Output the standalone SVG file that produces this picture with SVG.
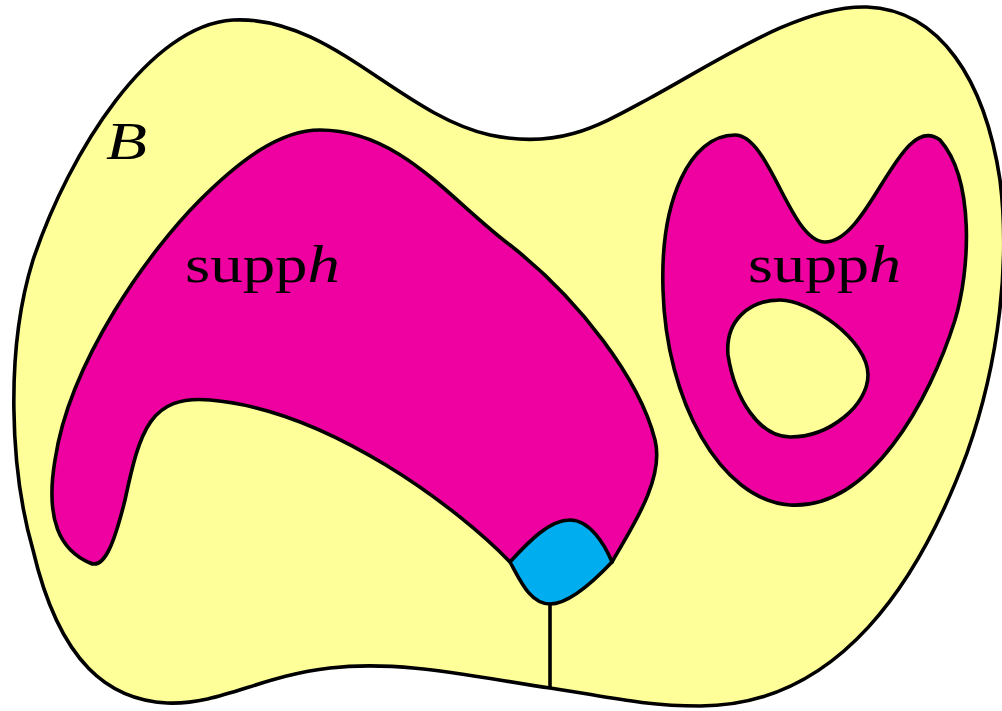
<svg xmlns="http://www.w3.org/2000/svg" width="1002" height="711" viewBox="0 0 1002 711">
<style>
.o{stroke:#000;stroke-width:3.6;stroke-linejoin:round}
.y{fill:#FFFF99}
.m{fill:#EF00A0}
.b{fill:#00AEEF}
.t{font-family:"Liberation Serif",serif;font-size:52px;fill:#000}
</style>
<rect width="1002" height="711" fill="#fff"/>
<g id="B">
<path class="o y" d="M 233,20 C 330,15 400,115 490,135 C 560,150 600,125 650,98 C 720,60 800,5 867,7 C 940,10 985,80 1000,180 C 1010,260 1000,360 967,453 C 920,580 840,706 700,706 C 640,706 600,695 550,688 C 470,676 400,660 330,668 C 260,676 220,705 167,703 C 110,700 60,665 33,550 C 10,470 5,350 33,260 C 70,150 150,25 233,20 Z"/>
<text class="t" x="106" y="159" font-style="italic" font-size="60" textLength="41" lengthAdjust="spacingAndGlyphs">B</text>
</g>
<g id="supp-left">
<path class="o m" d="M 320,130 C 400,130 450,200 510,245 C 580,300 640,380 655,440 C 665,480 630,530 612,562 L 510,562 C 460,510 330,410 210,400 C 150,395 140,430 125,500 C 115,540 105,570 90,563 C 60,550 45,520 55,460 C 70,360 150,250 200,200 C 240,160 280,130 320,130 Z"/>
<text class="t" x="185" y="282" textLength="155" lengthAdjust="spacingAndGlyphs">supp<tspan font-style="italic">h</tspan></text>
</g>
<g id="supp-right">
<path class="o m" d="M 825,242 C 790,242 770,135 735,135 C 690,135 660,200 663,290 C 666,400 720,500 790,505 C 870,510 930,400 955,320 C 970,270 975,180 940,140 C 900,110 870,242 825,242 Z"/>
<path class="o y" d="M 780,300 C 810,300 868,340 868,375 C 868,405 830,437 790,437 C 760,437 735,400 728,355 C 725,320 750,300 780,300 Z"/>
<text class="t" x="748" y="282" textLength="153" lengthAdjust="spacingAndGlyphs">supp<tspan font-style="italic">h</tspan></text>
</g>
<g id="blue">
<path class="o b" d="M 510,562 C 530,540 550,520 570,520 C 590,520 605,545 612,562 C 595,580 570,604 550,604 C 530,604 520,580 510,562 Z"/>
</g>
<g id="connectors">
<line class="o" x1="550" y1="604" x2="550" y2="688"/>
</g>
</svg>
